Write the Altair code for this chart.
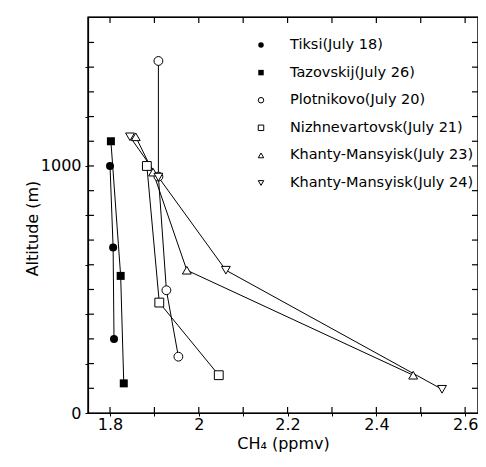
import altair as alt
import pandas as pd

# ---- data ----
series_names = [
    "Tiksi(July 18)",
    "Tazovskij(July 26)",
    "Plotnikovo(July 20)",
    "Nizhnevartovsk(July 21)",
    "Khanty-Mansyisk(July 23)",
    "Khanty-Mansyisk(July 24)",
]
series_filled = [True, True, False, False, False, False]
series_shapes = ["circle", "square", "circle", "square", "triangle-up", "triangle-down"]

tiksi_ch4 = [1.800, 1.807, 1.809]
tiksi_alt = [1000, 670, 300]
tazov_ch4 = [1.802, 1.824, 1.831]
tazov_alt = [1100, 555, 120]
plotn_ch4 = [1.909, 1.909, 1.927, 1.954]
plotn_alt = [1425, 957, 497, 228]
nizhn_ch4 = [1.883, 1.911, 2.045]
nizhn_alt = [1000, 447, 153]
km23_ch4 = [1.858, 1.897, 1.973, 2.483]
km23_alt = [1118, 975, 578, 153]
km24_ch4 = [1.845, 1.909, 2.061, 2.548]
km24_alt = [1118, 955, 578, 96]

x_tick_values = [1.8, 1.9, 2.0, 2.1, 2.2, 2.3, 2.4, 2.5, 2.6]
y_tick_values = [0, 100, 200, 300, 400, 500, 600, 700, 800, 900, 1000,
                 1100, 1200, 1300, 1400, 1500]

X_MIN, X_MAX = 1.7504, 2.629
Y_MIN, Y_MAX = 0, 1603

all_ch4 = [tiksi_ch4, tazov_ch4, plotn_ch4, nizhn_ch4, km23_ch4, km24_ch4]
all_alt = [tiksi_alt, tazov_alt, plotn_alt, nizhn_alt, km23_alt, km24_alt]

rows = []
for name, filled, xs, ys in zip(series_names, series_filled, all_ch4, all_alt):
    for i, (xv, yv) in enumerate(zip(xs, ys)):
        rows.append({"series": name, "filled": filled, "ch4": xv, "alt": yv, "ord": i})
df = pd.DataFrame(rows)

# legend rows (layout in pixels inside the plot area)
leg = pd.DataFrame({
    "series": series_names,
    "filled": series_filled,
    "ly": [28 + 27.6 * i for i in range(len(series_names))],
})

W, H = 390, 396
FONT = "DejaVu Sans"
xscale = alt.Scale(domain=[X_MIN, X_MAX], nice=False, zero=False)
yscale = alt.Scale(domain=[Y_MIN, Y_MAX], nice=False, zero=False)
shape_scale = alt.Scale(domain=series_names, range=series_shapes)

# frame and inward ticks, built as short line segments (6 px long)
dx = 6 * (X_MAX - X_MIN) / W
dy = 6 * (Y_MAX - Y_MIN) / H
seg = []
k = 0
for v in x_tick_values:
    seg += [{"id": k, "p": 0, "x": v, "y": Y_MIN}, {"id": k, "p": 1, "x": v, "y": Y_MIN + dy}]
    k += 1
    seg += [{"id": k, "p": 0, "x": v, "y": Y_MAX}, {"id": k, "p": 1, "x": v, "y": Y_MAX - dy}]
    k += 1
for v in y_tick_values[1:]:
    seg += [{"id": k, "p": 0, "x": X_MIN, "y": v}, {"id": k, "p": 1, "x": X_MIN + dx, "y": v}]
    k += 1
    seg += [{"id": k, "p": 0, "x": X_MAX, "y": v}, {"id": k, "p": 1, "x": X_MAX - dx, "y": v}]
    k += 1
corners = [(X_MIN, Y_MIN), (X_MAX, Y_MIN), (X_MAX, Y_MAX), (X_MIN, Y_MAX), (X_MIN, Y_MIN)]
for j, (cx, cy) in enumerate(corners):
    seg.append({"id": k, "p": j, "x": cx, "y": cy})
segs = pd.DataFrame(seg)

frame = alt.Chart(segs).mark_line(color="black", strokeWidth=1.2).encode(
    x=alt.X("x:Q", scale=xscale,
            axis=alt.Axis(values=x_tick_values, format="~g",
                          labelExpr="round(datum.value * 10) % 2 == 0 ? datum.label : ''",
                          labelOverlap=False,
                          ticks=True, tickSize=3, tickColor="black", tickWidth=1,
                          domain=True, domainColor="black", domainWidth=1.2,
                          grid=False, labelFontSize=16, labelPadding=0, labelFont=FONT,
                          labelColor="black", title="CH₄ (ppmv)", titleFont=FONT,
                          titleFontSize=16, titleFontWeight="normal", titleColor="black",
                          titlePadding=3)),
    y=alt.Y("y:Q", scale=yscale,
            axis=alt.Axis(values=y_tick_values, format="d",
                          labelExpr="datum.value % 500 == 0 ? datum.label : ''",
                          labelOverlap=False,
                          ticks=True, tickSize=3, tickColor="black", tickWidth=1,
                          domain=True, domainColor="black", domainWidth=1.2,
                          grid=False, labelFontSize=16, labelPadding=4, labelFont=FONT,
                          labelColor="black", title="Altitude (m)", titleFont=FONT,
                          titleFontSize=16, titleFontWeight="normal", titleColor="black",
                          titleX=-56, titleY=211, titleBaseline="middle",
                          titleAlign="center", titleAngle=270)),
    detail="id:N",
    order="p:Q",
)

lines = alt.Chart(df).mark_line(color="black", strokeWidth=1).encode(
    x=alt.X("ch4:Q", scale=xscale),
    y=alt.Y("alt:Q", scale=yscale),
    detail="series:N",
    order="ord:Q",
)

pts_filled = alt.Chart(df).transform_filter("datum.filled").mark_point(
    filled=True, color="black", size=64, opacity=1).encode(
    x=alt.X("ch4:Q", scale=xscale),
    y=alt.Y("alt:Q", scale=yscale),
    shape=alt.Shape("series:N", scale=shape_scale, legend=None),
)
pts_open = alt.Chart(df).transform_filter("!datum.filled").mark_point(
    filled=True, fill="white", stroke="black", strokeWidth=1, size=78, opacity=1).encode(
    x=alt.X("ch4:Q", scale=xscale),
    y=alt.Y("alt:Q", scale=yscale),
    shape=alt.Shape("series:N", scale=shape_scale, legend=None),
)

leg_filled = alt.Chart(leg).transform_filter("datum.filled").mark_point(
    filled=True, color="black", size=30, opacity=1).encode(
    x=alt.value(173), y=alt.Y("ly:Q", scale=None),
    shape=alt.Shape("series:N", scale=shape_scale, legend=None),
)
leg_open = alt.Chart(leg).transform_filter("!datum.filled").mark_point(
    filled=True, fill="white", stroke="black", strokeWidth=1, size=30, opacity=1).encode(
    x=alt.value(173), y=alt.Y("ly:Q", scale=None),
    shape=alt.Shape("series:N", scale=shape_scale, legend=None),
)
leg_text = alt.Chart(leg).mark_text(
    align="left", baseline="middle", font=FONT, fontSize=14.5, color="black").encode(
    x=alt.value(202), y=alt.Y("ly:Q", scale=None), text="series:N",
)

chart = alt.layer(
    frame, lines, pts_filled, pts_open, leg_filled, leg_open, leg_text,
).properties(
    width=W, height=H,
    autosize=alt.AutoSizeParams(type="none"),
    padding={"left": 80, "top": 9, "right": 0, "bottom": 41},
    background="white",
).configure_view(stroke="black", strokeWidth=1.2)

chart.save("out.html", embed_options={"renderer": "svg", "actions": False})
